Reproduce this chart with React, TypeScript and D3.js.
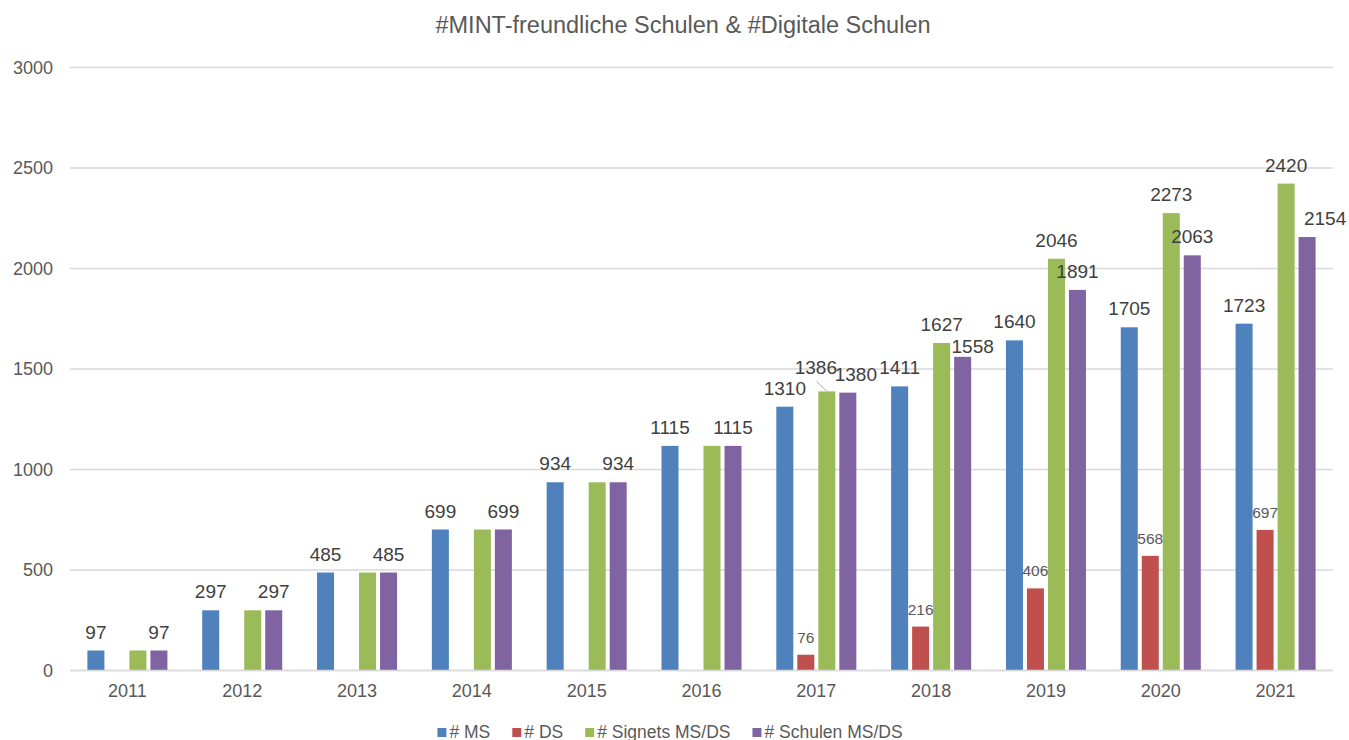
import * as d3 from "d3";
import { useEffect, useRef } from "react";

const years = ["2011", "2012", "2013", "2014", "2015", "2016", "2017", "2018", "2019", "2020", "2021"];
const seriesNames = ["# MS", "# DS", "# Signets MS/DS", "# Schulen MS/DS"];
const msValues = [97, 297, 485, 699, 934, 1115, 1310, 1411, 1640, 1705, 1723];
const dsValues = [null, null, null, null, null, null, 76, 216, 406, 568, 697];
const signetValues = [97, 297, 485, 699, 934, 1115, 1386, 1627, 2046, 2273, 2420];
const schulenValues = [97, 297, 485, 699, 934, 1115, 1380, 1558, 1891, 2063, 2154];
const yTicks = [0, 500, 1000, 1500, 2000, 2500, 3000];
const colors = ["#4f81bd", "#c0504d", "#9bbb59", "#8064a2"];
const title = "#MINT-freundliche Schulen & #Digitale Schulen";

// hand-moved labels in the original (series index - year): [dx, dy]
const labelNudge: Record<string, number[]> = {
  "2-2017": [-11, -5],
  "3-2017": [8, 0],
  "3-2018": [10, 8],
  "3-2021": [18, 0],
};

const W = 1349, H = 740;
const margin = { top: 67, right: 16, bottom: 70, left: 70 };

const App = () => {
  const ref = useRef<SVGSVGElement>(null);

  useEffect(() => {
    document.body.style.margin = "0";
    const svg = d3.select(ref.current);
    svg.selectAll("*").remove();
    const font = "'Liberation Sans', Arial, sans-serif";

    const allSeries = [msValues, dsValues, signetValues, schulenValues];
    const rows = years.map((yr, i) => ({
      year: yr,
      values: allSeries.map((s, k) => ({ k, v: s[i] })),
    }));

    const x0 = d3.scaleBand()
      .domain(years)
      .range([margin.left, W - margin.right])
      .paddingInner(0.303)
      .paddingOuter(0.1515);
    const x1 = d3.scaleBand()
      .domain(d3.range(4).map(String))
      .range([0, x0.bandwidth()])
      .paddingInner(0.19)
      .paddingOuter(0);
    const y = d3.scaleLinear().domain([0, 3000]).range([H - margin.bottom, margin.top]);

    // title
    svg.append("text")
      .attr("x", 683)
      .attr("y", 33)
      .attr("text-anchor", "middle")
      .style("font-family", font)
      .style("font-size", "23.5px")
      .style("fill", "#595959")
      .text(title);

    // gridlines + y labels
    const grid = svg.append("g");
    grid.selectAll("line")
      .data(yTicks)
      .enter()
      .append("line")
      .attr("x1", margin.left)
      .attr("x2", W - margin.right)
      .attr("y1", (d) => y(d) + 0.5)
      .attr("y2", (d) => y(d) + 0.5)
      .style("stroke", "#d9d9d9")
      .style("stroke-width", 1.5);
    grid.selectAll("text")
      .data(yTicks)
      .enter()
      .append("text")
      .attr("x", 53)
      .attr("y", (d) => y(d) + 6.5)
      .attr("text-anchor", "end")
      .style("font-family", font)
      .style("font-size", "18px")
      .style("fill", "#595959")
      .text((d) => d);

    // bars
    const groups = svg.selectAll(".grp")
      .data(rows)
      .enter()
      .append("g")
      .attr("transform", (d) => "translate(" + x0(d.year) + ",0)");

    groups.selectAll("rect")
      .data((d) => d.values.filter((e) => e.v != null))
      .enter()
      .append("rect")
      .attr("x", (d) => x1(String(d.k)))
      .attr("width", x1.bandwidth())
      .attr("y", (d) => y(d.v))
      .attr("height", (d) => y(0) - y(d.v))
      .style("fill", (d) => colors[d.k]);

    // data labels (signet label hidden where it equals the schulen value, as in the original)
    groups.each(function (row) {
      const g = d3.select(this);
      row.values.filter((e) => e.v != null).forEach((e) => {
        if (e.k === 2 && e.v === row.values[3].v) return;
        const cx = x1(String(e.k)) + x1.bandwidth() / 2;
        const small = e.k === 1;
        const [dx, dy] = labelNudge[e.k + "-" + row.year] || [0, 0];
        if (row.year === "2017" && e.k === 2) {
          g.append("line")
            .attr("x1", cx - 10)
            .attr("y1", y(e.v) - 10)
            .attr("x2", cx)
            .attr("y2", y(e.v))
            .style("stroke", "#a6a6a6")
            .style("stroke-width", 1);
        }
        g.append("text")
          .attr("x", cx + dx)
          .attr("y", y(e.v) - 12 + dy)
          .attr("text-anchor", "middle")
          .style("font-family", font)
          .style("font-size", small ? "15.5px" : "19px")
          .style("fill", small ? "#595959" : "#404040")
          .text(e.v);
      });
    });

    // x axis
    svg.append("line")
      .attr("x1", margin.left)
      .attr("x2", W - margin.right)
      .attr("y1", y(0) + 0.5)
      .attr("y2", y(0) + 0.5)
      .style("stroke", "#d9d9d9")
      .style("stroke-width", 1.5);
    svg.append("g")
      .selectAll("text")
      .data(years)
      .enter()
      .append("text")
      .attr("x", (d) => x0(d) + x0.bandwidth() / 2)
      .attr("y", y(0) + 27)
      .attr("text-anchor", "middle")
      .style("font-family", font)
      .style("font-size", "18px")
      .style("fill", "#595959")
      .text((d) => d);

    // legend
    const legend = svg.append("g");
    const items = seriesNames.map((name, k) => {
      const it = legend.append("g");
      it.append("rect")
        .attr("width", 9)
        .attr("height", 9)
        .attr("y", -10)
        .style("fill", colors[k]);
      const t = it.append("text")
        .attr("x", 12)
        .style("font-family", font)
        .style("font-size", "17.5px")
        .style("fill", "#595959")
        .text(name);
      return { it, w: 12 + (t.node() as SVGTextElement).getComputedTextLength() };
    });
    const gap = 22;
    const total = d3.sum(items, (d) => d.w) + gap * (items.length - 1);
    let lx = 670 - total / 2;
    items.forEach((d) => {
      d.it.attr("transform", "translate(" + lx + ",738)");
      lx += d.w + gap;
    });
  }, []);

  return (
    <svg ref={ref} width={W} height={H} style={{ display: "block", background: "#fff" }}></svg>
  );
};

export default App;
